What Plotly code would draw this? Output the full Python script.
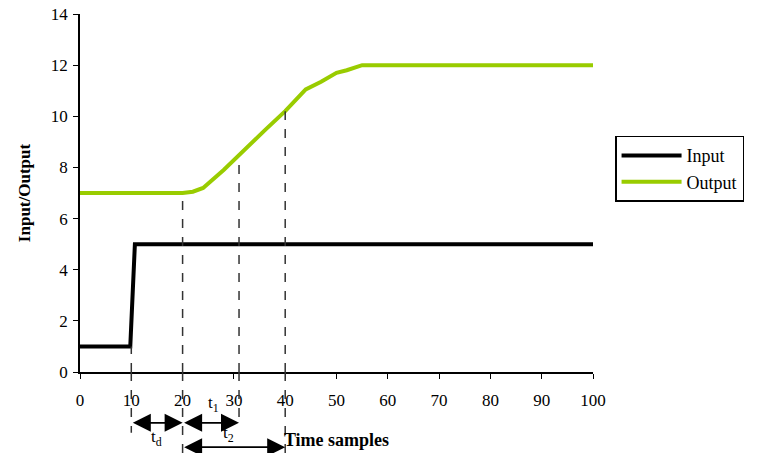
import plotly.graph_objects as go

input_x = [0, 9.8, 10.7, 100]
input_y = [1, 1, 5, 5]

output_x = [0, 20, 22, 24, 28, 32, 36, 40, 44, 47, 50, 52, 55, 100]
output_y = [7, 7, 7.05, 7.2, 7.9, 8.7, 9.45, 10.2, 11.05, 11.35, 11.7, 11.8, 12, 12]

x_ticks = [0, 10, 20, 30, 40, 50, 60, 70, 80, 90, 100]
y_ticks = [0, 2, 4, 6, 8, 10, 12, 14]

# marker lines: x position, value where line starts, paper bottom
marker_x = [10, 20, 31, 40]
marker_top = [1, 7, 8.45, 10.2]
marker_bottom = [-0.17, -0.23, -0.145, -0.23]

# arrows between marker lines
arrow_start = [10, 20, 20]
arrow_end = [20, 31, 40]
arrow_y = [-0.142, -0.142, -0.21]
arrow_label = ["t<sub>d</sub>", "t<sub>1</sub>", "t<sub>2</sub>"]
label_x = [15, 26, 29]
label_y = [-0.22, -0.125, -0.21]

FONT = "Liberation Serif"

fig = go.Figure()
fig.add_trace(go.Scatter(x=input_x, y=input_y, mode="lines", name="Input",
                         line=dict(color="black", width=4)))
fig.add_trace(go.Scatter(x=output_x, y=output_y, mode="lines", name="Output",
                         line=dict(color="#99cc00", width=4)))

for mx, top, bot in zip(marker_x, marker_top, marker_bottom):
    fig.add_shape(type="line", xref="x", yref="y", x0=mx, x1=mx, y0=0, y1=top,
                  line=dict(color="#333333", width=1.5, dash="dash"))
    fig.add_shape(type="line", xref="x", yref="paper", x0=mx, x1=mx, y0=0, y1=bot,
                  line=dict(color="#333333", width=1.5, dash="dash"))

for t, lx, ly in zip(arrow_label, label_x, label_y):
    fig.add_annotation(x=lx, y=ly, xref="x", yref="paper", text=t,
                       showarrow=False, font=dict(family=FONT, size=17, color="black"))

for s, e, ay in zip(arrow_start, arrow_end, arrow_y):
    fig.add_annotation(x=e, y=ay, xref="x", yref="paper", ax=s, ay=0,
                       axref="x", ayref="pixel", text="", showarrow=True,
                       arrowhead=2, arrowside="end+start", arrowsize=2.0,
                       arrowwidth=1.8, arrowcolor="black")

fig.update_layout(
    width=760, height=453,
    margin=dict(l=80, r=167, t=14, b=81, autoexpand=False),
    paper_bgcolor="white", plot_bgcolor="white",
    font=dict(family=FONT, size=17, color="black"),
    showlegend=True,
    legend=dict(x=1.043, y=0.66, xanchor="left", yanchor="top",
                bordercolor="black", borderwidth=1.5,
                font=dict(family=FONT, size=18, color="black"),
                tracegroupgap=0, itemwidth=60),
    xaxis=dict(range=[0, 100], tickvals=x_ticks, showgrid=False, zeroline=False,
               showline=True, linecolor="black", linewidth=1.5, automargin=False,
               ticks="outside", ticklen=5, tickcolor="black", ticklabelstandoff=7,
               title=dict(text="<b>Time samples</b>", standoff=24,
                          font=dict(family=FONT, size=18))),
    yaxis=dict(range=[0, 14], tickvals=y_ticks, showgrid=False, zeroline=False,
               showline=True, linecolor="black", linewidth=1.5, automargin=False,
               ticks="outside", ticklen=5, tickcolor="black", ticklabelstandoff=2,
               title=dict(text="<b>Input/Output</b>", standoff=16,
                          font=dict(family=FONT, size=17))),
)

fig.write_html("out.html", config={"displayModeBar": False},
               post_script="document.body.style.margin='0';")
